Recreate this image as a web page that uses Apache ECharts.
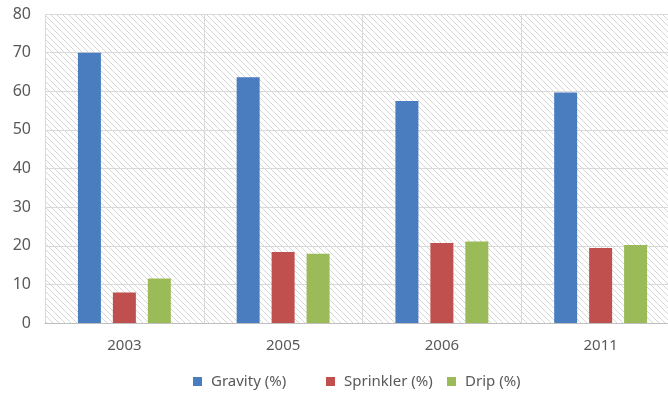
<!DOCTYPE html>
<html>
<head>
<meta charset="utf-8">
<script src="https://cdn.jsdelivr.net/npm/echarts@6/dist/echarts.min.js"></script>
<style>
  html, body { margin: 0; padding: 0; background: #fff; overflow: hidden; }
  #chart { width: 680px; height: 396px; }
</style>
</head>
<body>
<div id="chart"></div>
<script>
// Irrigation method shares by year
const years = ['2003', '2005', '2006', '2011'];
const seriesNames = ['Gravity (%)', 'Sprinkler (%)', 'Drip (%)'];
const gravity = [70.0, 63.6, 57.5, 59.7];
const sprinkler = [7.9, 18.4, 20.7, 19.4];
const drip = [11.5, 17.9, 21.1, 20.2];
const yTicks = { min: 0, max: 80, interval: 10 };

const colors = ['#4a7dc0', '#c0504d', '#9bbb59'];
const legendLeft = [193, 326, 447];

// Diagonal hatch used as the plot background
function hatchPattern() {
  const size = 6;
  const c = document.createElement('canvas');
  c.width = size; c.height = size;
  const ctx = c.getContext('2d');
  ctx.fillStyle = '#ffffff';
  ctx.fillRect(0, 0, size, size);
  ctx.strokeStyle = '#d6d6d6';
  ctx.lineWidth = 1;
  ctx.beginPath();
  for (const off of [-size, 0, size]) {
    ctx.moveTo(off - 1, -1);
    ctx.lineTo(off + size + 1, size + 1);
  }
  ctx.stroke();
  return { image: c, repeat: 'repeat' };
}

const font = 'Noto Sans, Open Sans, sans-serif';
const chart = echarts.init(document.getElementById('chart'));
chart.setOption({
  animation: false,
  color: colors,
  grid: {
    left: 45, top: 14, right: 0, height: 309,
    show: true, backgroundColor: hatchPattern(), borderWidth: 0
  },
  legend: seriesNames.map((name, i) => ({
    data: [name], top: 374, left: legendLeft[i], padding: 0,
    itemWidth: 9, itemHeight: 9, icon: 'rect',
    textStyle: { color: '#595959', fontSize: 15, fontFamily: font, padding: [0, 0, 0, 4] }
  })),
  xAxis: {
    type: 'category', data: years,
    axisLine: { show: true, lineStyle: { color: '#bfbfbf' } },
    axisTick: { show: false },
    splitLine: { show: true, lineStyle: { color: '#d9d9d9' } },
    axisLabel: { color: '#595959', fontSize: 15, fontFamily: font, margin: 15 }
  },
  yAxis: {
    type: 'value', min: yTicks.min, max: yTicks.max, interval: yTicks.interval,
    axisLine: { show: false }, axisTick: { show: false },
    splitLine: { lineStyle: { color: '#d9d9d9' } },
    axisLabel: { color: '#595959', fontSize: 16, fontFamily: font, margin: 14 }
  },
  series: [gravity, sprinkler, drip].map((vals, i) => ({
    name: seriesNames[i], type: 'bar', data: vals, barWidth: 23, barGap: '52%',
    itemStyle: { color: colors[i] }
  }))
});
</script>
</body>
</html>
